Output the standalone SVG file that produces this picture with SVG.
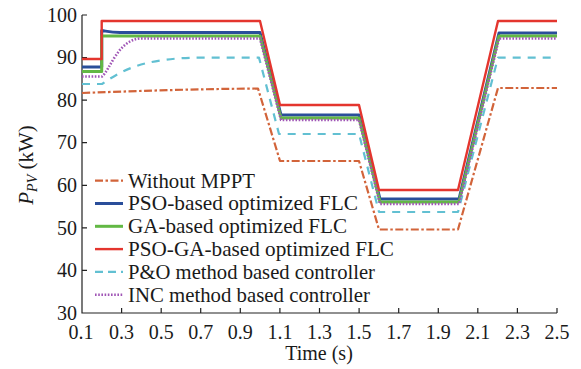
<svg xmlns="http://www.w3.org/2000/svg" width="581" height="369" viewBox="0 0 581 369" font-family="'Liberation Serif', 'Times New Roman', serif" font-size="20">
<style>
.ax{stroke:#222;stroke-width:1.2;fill:none}
.c{fill:none;stroke-linejoin:round}
.red{stroke:#e4352e;stroke-width:2.4}
.blue{stroke:#2a4e9a;stroke-width:3}
.green{stroke:#62b844;stroke-width:3}
.purple{stroke:#a056b6;stroke-width:2.6;stroke-dasharray:1.6 1.6}
.cyan{stroke:#62c0d2;stroke-width:2.2;stroke-dasharray:8 7}
.orange{stroke:#d2643a;stroke-width:2.2;stroke-dasharray:8 2.5 2.5 2.5}
.lg{font-size:21px}
</style>
<rect width="581" height="369" fill="#fff"/>
<g id="axes" fill="#1a1a1a">
<path class="ax" d="M82,15 V313 H557"/>
<path class="ax" d="M82,15 h5 M82,57.6 h5 M82,100.1 h5 M82,142.7 h5 M82,185.3 h5 M82,227.9 h5 M82,270.4 h5"/>
<path class="ax" d="M121.6,313 v-5 M161.2,313 v-5 M200.7,313 v-5 M240.3,313 v-5 M279.9,313 v-5 M319.5,313 v-5 M359.1,313 v-5 M398.7,313 v-5 M438.3,313 v-5 M477.8,313 v-5 M517.4,313 v-5 M557,313 v-5"/>
<g text-anchor="end">
<text x="77" y="21.7">100</text>
<text x="77" y="64.3">90</text>
<text x="77" y="106.8">80</text>
<text x="77" y="149.4">70</text>
<text x="77" y="192">60</text>
<text x="77" y="234.6">50</text>
<text x="77" y="277.1">40</text>
<text x="77" y="319.7">30</text>
</g>
<g text-anchor="middle">
<text x="81" y="338.5">0.1</text>
<text x="121.6" y="338.5">0.3</text>
<text x="161.2" y="338.5">0.5</text>
<text x="200.7" y="338.5">0.7</text>
<text x="240.3" y="338.5">0.9</text>
<text x="279.9" y="338.5">1.1</text>
<text x="319.5" y="338.5">1.3</text>
<text x="359.1" y="338.5">1.5</text>
<text x="398.7" y="338.5">1.7</text>
<text x="438.3" y="338.5">1.9</text>
<text x="477.8" y="338.5">2.1</text>
<text x="517.4" y="338.5">2.3</text>
<text x="557" y="338.5">2.5</text>
<text x="319" y="360">Time (s)</text>
</g>
<text transform="translate(33,165) rotate(-90)" text-anchor="middle" font-size="21"><tspan font-style="italic">P</tspan><tspan font-style="italic" font-size="14" dy="4">PV</tspan><tspan dy="-4"> (kW)</tspan></text>
</g>
<g id="curves">
<path id="without-mppt" class="c orange" d="M82,93 C150,90.5 200,89 258,88.5 L280,161 H359 L379,229.5 H458 L498,88 H557"/>
<path id="pso" class="c blue" d="M82,67 H101.7 V30.5 C106,31 110,32.5 120,32.5 H260 L281,115 H359 L380,199 H459 L499,33 H557"/>
<path id="ga" class="c green" d="M82,71.5 H101.7 V36 H260 L281,118 H359 L380,202 H459 L499,36 H557"/>
<path id="pso-ga" class="c red" d="M82,59 H101.7 V21 H260 L280,105 H359 L379,190 H458 L498,21 H557"/>
<path id="po" class="c cyan" d="M82,84 H102 C120,72 140,58 200,57.6 H259 L279,134 H359 L379,212 H458 L498,57.6 H557"/>
<path id="inc" class="c purple" d="M82,76.5 H102 C110,70 118,40 140,38.5 H260 L281,120 H359 L380,204 H459 L499,38.5 H557"/>
</g>
<g id="legend" fill="#1a1a1a">
<line class="c orange" x1="95" y1="180.7" x2="123" y2="180.7"/>
<text class="lg" x="128" y="187.5" textLength="127" lengthAdjust="spacingAndGlyphs">Without MPPT</text>
<line class="c blue" x1="95" y1="203.5" x2="123" y2="203.5"/>
<text class="lg" x="128" y="210.3" textLength="230" lengthAdjust="spacingAndGlyphs">PSO-based optimized FLC</text>
<line class="c green" x1="95" y1="226.3" x2="123" y2="226.3"/>
<text class="lg" x="128" y="233.1" textLength="219" lengthAdjust="spacingAndGlyphs">GA-based optimized FLC</text>
<line class="c red" x1="95" y1="249.1" x2="123" y2="249.1"/>
<text class="lg" x="128" y="255.9" textLength="266" lengthAdjust="spacingAndGlyphs">PSO-GA-based optimized FLC</text>
<line class="c cyan" x1="95" y1="271.9" x2="123" y2="271.9" style="stroke-dasharray:8 5"/>
<text class="lg" x="128" y="278.7" textLength="247" lengthAdjust="spacingAndGlyphs">P&amp;O method based controller</text>
<line class="c purple" x1="95" y1="294.7" x2="123" y2="294.7"/>
<text class="lg" x="128" y="301.5" textLength="242" lengthAdjust="spacingAndGlyphs">INC method based controller</text>
</g>
</svg>
